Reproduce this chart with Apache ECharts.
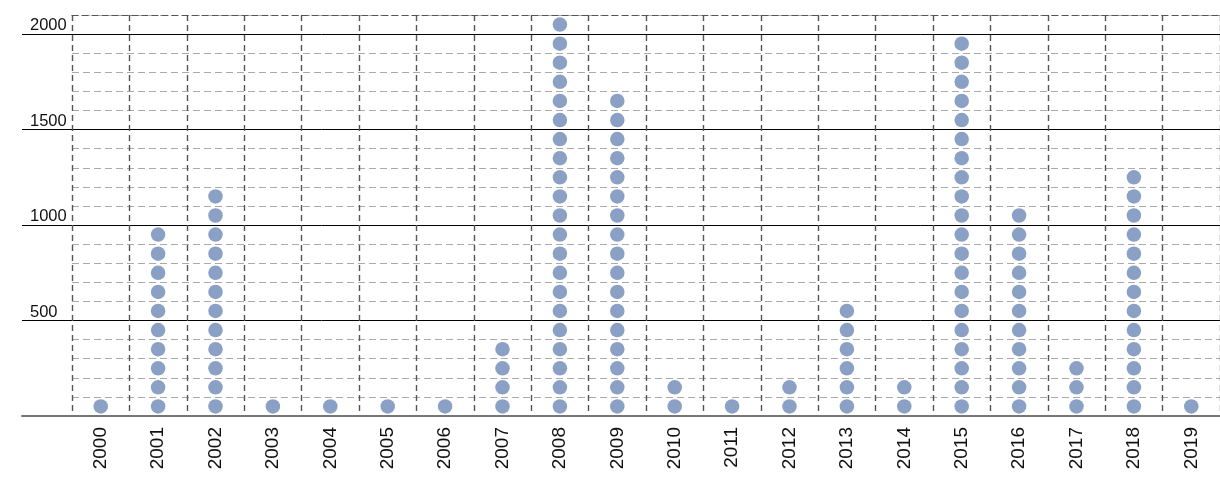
<!DOCTYPE html>
<html>
<head>
<meta charset="utf-8">
<script src="https://cdn.jsdelivr.net/npm/echarts@6/dist/echarts.min.js"></script>
<style>
html,body{margin:0;padding:0;background:#fff;}
#chart{width:1220px;height:477px;}
</style>
</head>
<body>
<div id="chart"></div>
<script>
// Data: each dot = 100 units
const years = ['2000','2001','2002','2003','2004','2005','2006','2007','2008','2009','2010','2011','2012','2013','2014','2015','2016','2017','2018','2019'];
const dotCounts = [1,10,12,1,1,1,1,4,21,17,2,1,2,6,2,20,11,3,13,1];
const unitValue = 100;
const yTicksMajor = [500, 1000, 1500, 2000];

const dots = [];
years.forEach((y, i) => {
  for (let k = 0; k < dotCounts[i]; k++) {
    dots.push([y, unitValue * k + unitValue / 2]);
  }
});

const chart = echarts.init(document.getElementById('chart'));
chart.setOption({
  animation: false,
  backgroundColor: '#fff',
  grid: [
    {left: 72, right: 0, top: 15, bottom: 61},
    {left: 22, right: 0, top: 34, bottom: 61}
  ],
  xAxis: [
    {
      type: 'category', gridIndex: 0, data: years, boundaryGap: true,
      axisLine: {show: false}, axisTick: {show: false},
      axisLabel: {rotate: 90, fontSize: 19, color: '#111', margin: 11, fontFamily: '"Liberation Sans", Arial, sans-serif'},
      splitLine: {show: true, lineStyle: {color: '#555', width: 1.4, type: [6, 4]}}
    },
    {
      type: 'category', gridIndex: 0, data: years, position: 'top',
      axisLine: {show: true, lineStyle: {color: '#555', width: 1.2, type: [6, 4]}},
      axisTick: {show: false}, axisLabel: {show: false}, splitLine: {show: false}
    },
    {
      type: 'value', gridIndex: 1, min: 0, max: 1, position: 'bottom',
      axisLine: {show: true, lineStyle: {color: '#777', width: 2}},
      axisTick: {show: false}, axisLabel: {show: false}, splitLine: {show: false}
    }
  ],
  yAxis: [
    {
      type: 'value', gridIndex: 0, min: 0, max: 2100, interval: 100,
      axisLine: {show: false}, axisTick: {show: false}, axisLabel: {show: false},
      splitLine: {show: true, lineStyle: {color: '#aaa', width: 1, type: [7, 4]}}
    },
    {
      type: 'value', gridIndex: 1, min: 0, max: 2000, interval: 500,
      axisLine: {show: false}, axisTick: {show: false},
      axisLabel: {
        inside: true, margin: 8, verticalAlign: 'bottom', fontSize: 16.5, color: '#111',
        fontFamily: '"Liberation Sans", Arial, sans-serif',
        formatter: v => yTicksMajor.includes(v) ? String(v) : ''
      },
      splitLine: {show: true, showMinLine: false, lineStyle: {color: '#000', width: 1}}
    }
  ],
  series: [
    {
      type: 'scatter', xAxisIndex: 0, yAxisIndex: 0,
      data: dots, symbol: 'circle', symbolSize: 14.5,
      itemStyle: {color: '#8aa0c5', opacity: 1},
      z: 5
    }
  ]
});
</script>
</body>
</html>
